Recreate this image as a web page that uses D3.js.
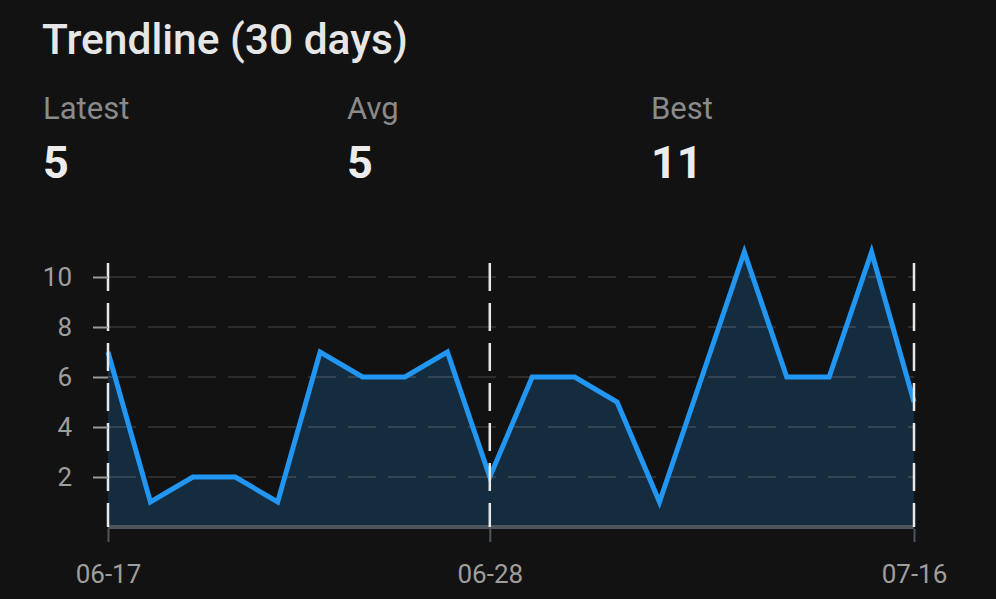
<!DOCTYPE html>
<html>
<head>
<meta charset="utf-8">
<script src="https://cdn.jsdelivr.net/npm/d3@7"></script>
<style>
  html, body { margin: 0; padding: 0; background: #121212; }
  svg { display: block; font-family: Roboto, "Noto Sans", sans-serif; }
</style>
</head>
<body>
<svg id="chart" width="996" height="599"></svg>
<script>
// trendline over the last 30 days, one point per logged day
const dates = ['06-17','06-18','06-20','06-21','06-22','06-23','06-24','06-25','06-27','06-28',
               '06-29','07-01','07-03','07-05','07-07','07-09','07-11','07-13','07-14','07-16'];
const values = [7, 1, 2, 2, 1, 7, 6, 6, 7, 2, 6, 6, 5, 1, 6, 11, 6, 6, 11, 5];
const xTicks = ['06-17', '06-28', '07-16'];
const yTicks = [2, 4, 6, 8, 10];

const statLabels = ['Latest', 'Avg', 'Best'];
const statValues = [
  values[values.length - 1],
  Math.round(d3.mean(values)),
  d3.max(values)
];

const svg = d3.select('#chart');
const plotL = 108, plotR = 914, plotB = 527, plotT = 252, gridTop = 263;

// header
svg.append('text').attr('x', 42).attr('y', 54)
  .attr('font-size', 42.5).attr('font-weight', 500).attr('fill', '#e6e6e6')
  .text('Trendline (30 days)');

statLabels.forEach((s, i) => {
  const sx = 43 + i * 304;
  svg.append('text').attr('x', sx).attr('y', 119)
    .attr('font-size', 31).attr('fill', '#8a8a8a').text(s);
  svg.append('text').attr('x', sx).attr('y', 178)
    .attr('font-size', 45).attr('font-weight', 700).attr('fill', '#ececec').text(statValues[i]);
});

const x = d3.scalePoint().domain(dates).range([plotL, plotR]);
const y = d3.scaleLinear().domain([0, 11]).range([plotB, plotT]);

// area fill
const area = d3.area().x((d, i) => x(dates[i])).y0(y(0)).y1(d => y(d));
svg.append('path').datum(values)
  .attr('d', area).attr('fill', '#2196f3').attr('fill-opacity', 0.2);

// horizontal dashed grid
svg.append('g').selectAll('line').data(yTicks).join('line')
  .attr('x1', plotL).attr('x2', plotR)
  .attr('y1', d => y(d)).attr('y2', d => y(d))
  .attr('stroke', '#ffffff').attr('stroke-opacity', 0.12)
  .attr('stroke-width', 2).attr('stroke-dasharray', '28,12');

// baseline
svg.append('line').attr('x1', plotL).attr('x2', plotR)
  .attr('y1', y(0)).attr('y2', y(0))
  .attr('stroke', '#4e555c').attr('stroke-width', 4);

// line
const line = d3.line().x((d, i) => x(dates[i])).y(d => y(d));
svg.append('path').datum(values)
  .attr('d', line).attr('fill', 'none')
  .attr('stroke', '#2196f3').attr('stroke-width', 5)
  .attr('stroke-linejoin', 'miter');

// vertical dashed grid at x ticks
svg.append('g').selectAll('line').data(xTicks).join('line')
  .attr('x1', d => x(d)).attr('x2', d => x(d))
  .attr('y1', gridTop).attr('y2', plotB)
  .attr('stroke', '#e8e8e8').attr('stroke-width', 2.5)
  .attr('stroke-dasharray', '28,12');

// y axis
const yAxis = svg.append('g').attr('transform', `translate(${plotL},0)`)
  .call(d3.axisLeft(y).tickValues(yTicks).tickSize(15).tickPadding(21));
yAxis.select('.domain').remove();
yAxis.selectAll('.tick line').attr('stroke', '#9a9a9a').attr('stroke-width', 2);
yAxis.selectAll('.tick text').attr('fill', '#9e9e9e')
  .attr('font-size', 26).attr('font-family', 'Roboto, sans-serif');

// x axis
const xAxis = svg.append('g').attr('transform', `translate(0,${plotB + 2})`)
  .call(d3.axisBottom(x).tickValues(xTicks).tickSize(13).tickPadding(23));
xAxis.select('.domain').remove();
xAxis.selectAll('.tick line').attr('stroke', '#4e555c').attr('stroke-width', 2);
xAxis.selectAll('.tick text').attr('fill', '#9e9e9e')
  .attr('font-size', 26).attr('font-family', 'Roboto, sans-serif');
</script>
</body>
</html>
